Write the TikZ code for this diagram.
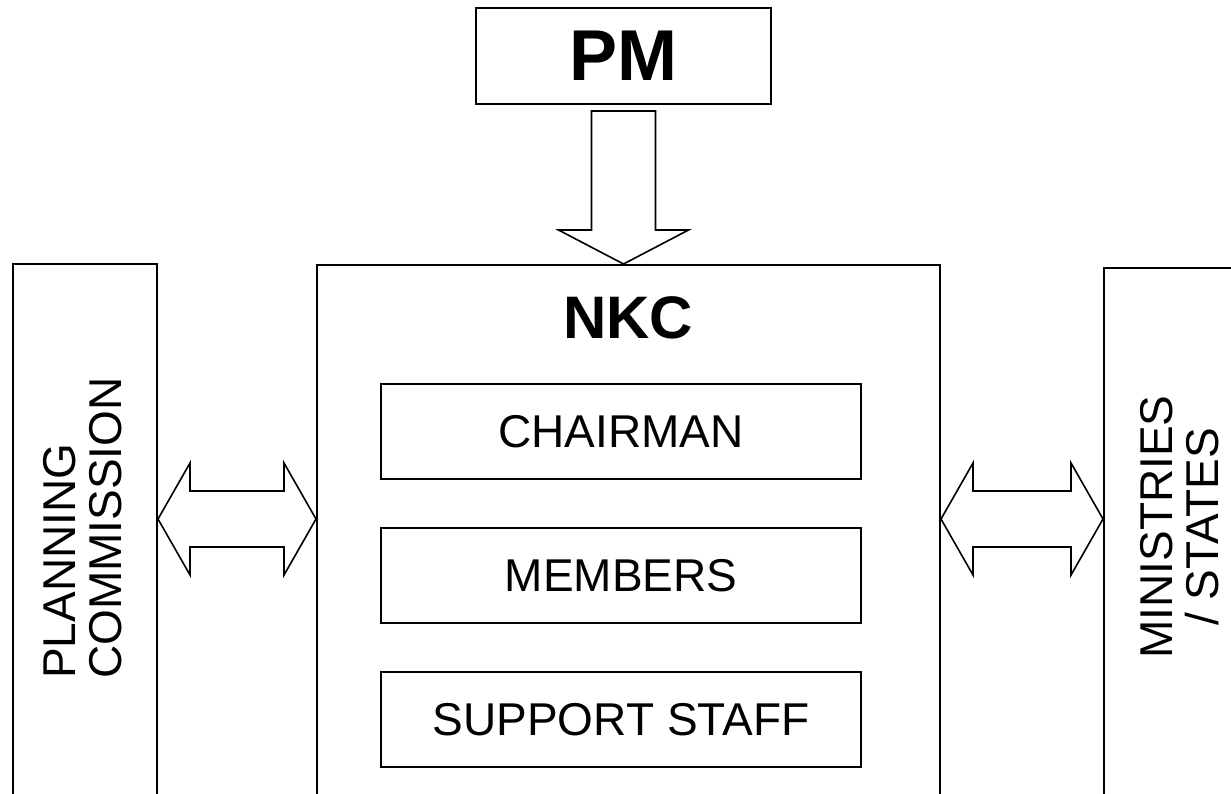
\documentclass[tikz,border=0pt]{standalone}
\usepackage{fontspec}
\setmainfont{Liberation Sans}
\usetikzlibrary{calc}
\begin{document}
\begin{tikzpicture}[x=1pt,y=-1pt,
  box/.style={draw, line width=2pt, inner sep=0pt, anchor=north west},
  lbl/.style={font=\fontsize{46}{46}\selectfont, inner sep=0pt},
  blockarrow/.style={draw, line width=1.6pt, fill=white, line join=miter}]
\useasboundingbox (0,0) rectangle (1231,793);
\clip (0,0) rectangle (1231,793);
% boxes
\node[box, minimum width=295pt, minimum height=96pt,
      font=\bfseries\fontsize{72}{72}\selectfont] (pm) at (475,7) {PM};
\node[box, minimum width=623pt, minimum height=700pt] (nkc) at (316,264) {};
\node[box, minimum width=144pt, minimum height=700pt] (pc) at (12,263) {};
\node[box, minimum width=300pt, minimum height=700pt] (ms) at (1103,267) {};
\node[font=\bfseries\fontsize{60}{60}\selectfont, inner sep=0pt] (nkct) at (628,318) {NKC};
\node[box, lbl, minimum width=480pt, minimum height=95pt] (chair) at (380,383) {CHAIRMAN};
\node[box, lbl, minimum width=480pt, minimum height=95pt] (mem) at (380,527) {MEMBERS};
\node[box, lbl, minimum width=480pt, minimum height=95pt] (staff) at (380,671) {SUPPORT STAFF};
% vertical labels
\node[lbl, rotate=90, align=left] (pct) at (83,528) {PLANNING\\COMMISSION};
\node[lbl, rotate=90, align=center] (mst) at (1180,527) {MINISTRIES\\/ STATES};
% down arrow PM -> NKC
\coordinate (dtip) at (pm.south |- nkc.north);
\draw[blockarrow] ($(dtip)+(-32,-153)$) -- ($(dtip)+(32,-153)$) -- ($(dtip)+(32,-34)$)
  -- ($(dtip)+(65,-34)$) -- (dtip) -- ($(dtip)+(-65,-34)$) -- ($(dtip)+(-32,-34)$) -- cycle;
% left double arrow
\coordinate (la) at (pc.east |- 0,519);
\coordinate (lb) at (nkc.west |- 0,519);
\draw[blockarrow] (la) -- ($(la)+(32,-56)$) -- ($(la)+(32,-28)$) -- ($(lb)+(-32,-28)$)
  -- ($(lb)+(-32,-56)$) -- (lb) -- ($(lb)+(-32,56)$) -- ($(lb)+(-32,28)$)
  -- ($(la)+(32,28)$) -- ($(la)+(32,56)$) -- cycle;
% right double arrow
\coordinate (ra) at (nkc.east |- 0,519);
\coordinate (rb) at (ms.west |- 0,519);
\draw[blockarrow] (ra) -- ($(ra)+(32,-56)$) -- ($(ra)+(32,-28)$) -- ($(rb)+(-32,-28)$)
  -- ($(rb)+(-32,-56)$) -- (rb) -- ($(rb)+(-32,56)$) -- ($(rb)+(-32,28)$)
  -- ($(ra)+(32,28)$) -- ($(ra)+(32,56)$) -- cycle;
\end{tikzpicture}
\end{document}
